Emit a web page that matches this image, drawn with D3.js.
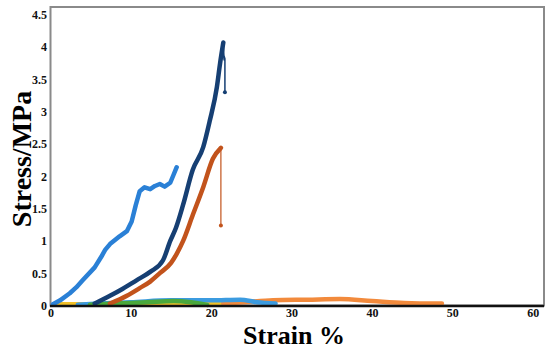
<!DOCTYPE html>
<html>
<head>
<meta charset="utf-8">
<script src="https://cdn.jsdelivr.net/npm/d3@7/dist/d3.min.js"></script>
<style>
  body { margin: 0; background: #fff; }
  svg { display: block; font-family: "Liberation Serif", "Times New Roman", serif; }
  .tick text { font-family: "Liberation Serif", "Times New Roman", serif; font-weight: bold; font-size: 12px; fill: #111; }
</style>
</head>
<body>
<svg id="chart" width="550" height="350"></svg>
<script>
// strain %, stress MPa
const blueMain = [[0.3,0.02],[1.2,0.08],[2.4,0.19],[3.2,0.28],[4.0,0.39],[5.5,0.59],[6.3,0.75],[6.8,0.86],[7.4,0.95],[8.6,1.07],[9.5,1.15],[10.1,1.3],[10.6,1.55],[11.1,1.77],[11.7,1.83],[12.4,1.8],[13.0,1.85],[13.6,1.88],[14.2,1.84],[14.9,1.9],[15.3,2.02],[15.7,2.14]];
const navyMain = [[5.5,0.03],[7.4,0.15],[9.0,0.26],[10.7,0.39],[12.4,0.52],[14.0,0.7],[14.9,1.0],[15.6,1.2],[16.5,1.56],[17.7,2.1],[19.0,2.45],[19.8,2.85],[20.7,3.38],[21.1,3.75],[21.5,4.07]];
const navyTail = [[21.5,4.07],[21.6,3.8],[21.5,3.9],[21.7,3.82],[21.7,3.3]];
const brownMain = [[7.4,0.03],[9.5,0.15],[11.1,0.27],[12.4,0.37],[13.6,0.5],[15.0,0.66],[15.7,0.8],[16.5,1.0],[17.7,1.4],[19.0,1.83],[20.2,2.27],[21.2,2.44]];
const brownTail = [[21.2,2.44],[21.2,1.24]];
const orangeLow = [[21.5,0.03],[24,0.05],[27.7,0.08],[32,0.09],[36,0.1],[40,0.07],[44,0.04],[48.7,0.03]];
const blueLow = [[3.4,0.01],[6,0.03],[10,0.05],[15,0.08],[20,0.08],[23.6,0.09],[25.7,0.05],[28,0.03]];
const greenLow = [[4.9,0.01],[8,0.03],[12,0.05],[15.3,0.07],[17.5,0.05],[19.5,0.01]];
const yellowLow = [[0.8,0.02],[3.5,0.02],[10,0.02],[19.6,0.02],[21.7,0.02]];
const xTicks = [0, 10, 20, 30, 40, 50, 60];
const yTicks = [0, 0.5, 1, 1.5, 2, 2.5, 3, 3.5, 4, 4.5];

const svg = d3.select('#chart');
const x = d3.scaleLinear().domain([0, 61.4]).range([50.5, 544]);
const y = d3.scaleLinear().domain([0, 4.62]).range([305.5, 7]);

// frame
svg.append('rect')
  .attr('x', 50.5).attr('y', 7).attr('width', 493.5).attr('height', 298.5)
  .attr('fill', 'none').attr('stroke', '#8a8a8a').attr('stroke-width', 2);

const line = d3.line().x(d => x(d[0])).y(d => y(d[1]));
const smooth = d3.line().x(d => x(d[0])).y(d => y(d[1])).curve(d3.curveMonotoneX);

function drawSeries(data, color, width, gen = smooth) {
  svg.append('path')
    .attr('d', gen(data))
    .attr('fill', 'none')
    .attr('stroke', color)
    .attr('stroke-width', width)
    .attr('stroke-linejoin', 'round')
    .attr('stroke-linecap', 'round');
}

drawSeries(yellowLow, '#f2c028', 4.5);
drawSeries(orangeLow, '#f28a3c', 4.5);
drawSeries(blueLow, '#3b9be0', 4.5);
drawSeries(greenLow, '#4aa83c', 4.5);

drawSeries(blueMain, '#2a80d6', 4.5, line);
drawSeries(brownMain, '#c2531c', 4.5);
drawSeries(brownTail, '#c2531c', 1.2, line);
svg.append('circle').attr('cx', x(brownTail[1][0])).attr('cy', y(brownTail[1][1])).attr('r', 2).attr('fill', '#c2531c');
drawSeries(navyMain, '#163f73', 4.5);
drawSeries(navyTail, '#163f73', 1.5, line);
svg.append('circle').attr('cx', x(navyTail[4][0])).attr('cy', y(navyTail[4][1])).attr('r', 2).attr('fill', '#163f73');

// bottom axis line
svg.append('line')
  .attr('x1', 50).attr('x2', 544).attr('y1', 306).attr('y2', 306)
  .attr('stroke', '#111').attr('stroke-width', 2.5);

const xAxis = svg.append('g')
  .attr('transform', 'translate(0,306)')
  .call(d3.axisBottom(x).tickValues(xTicks).tickSize(0).tickPadding(2).tickFormat(d => d));
xAxis.select('.domain').remove();

const yAxis = svg.append('g')
  .attr('transform', 'translate(50,0)')
  .call(d3.axisLeft(y).tickValues(yTicks).tickSize(0).tickPadding(3).tickFormat(d => d));
yAxis.select('.domain').remove();

svg.append('text')
  .attr('x', 294).attr('y', 344)
  .attr('text-anchor', 'middle')
  .attr('font-weight', 'bold').attr('font-size', 26)
  .text('Strain %');

svg.append('text')
  .attr('transform', 'translate(31,159) rotate(-90)')
  .attr('text-anchor', 'middle')
  .attr('font-weight', 'bold').attr('font-size', 28)
  .text('Stress/MPa');
</script>
</body>
</html>
